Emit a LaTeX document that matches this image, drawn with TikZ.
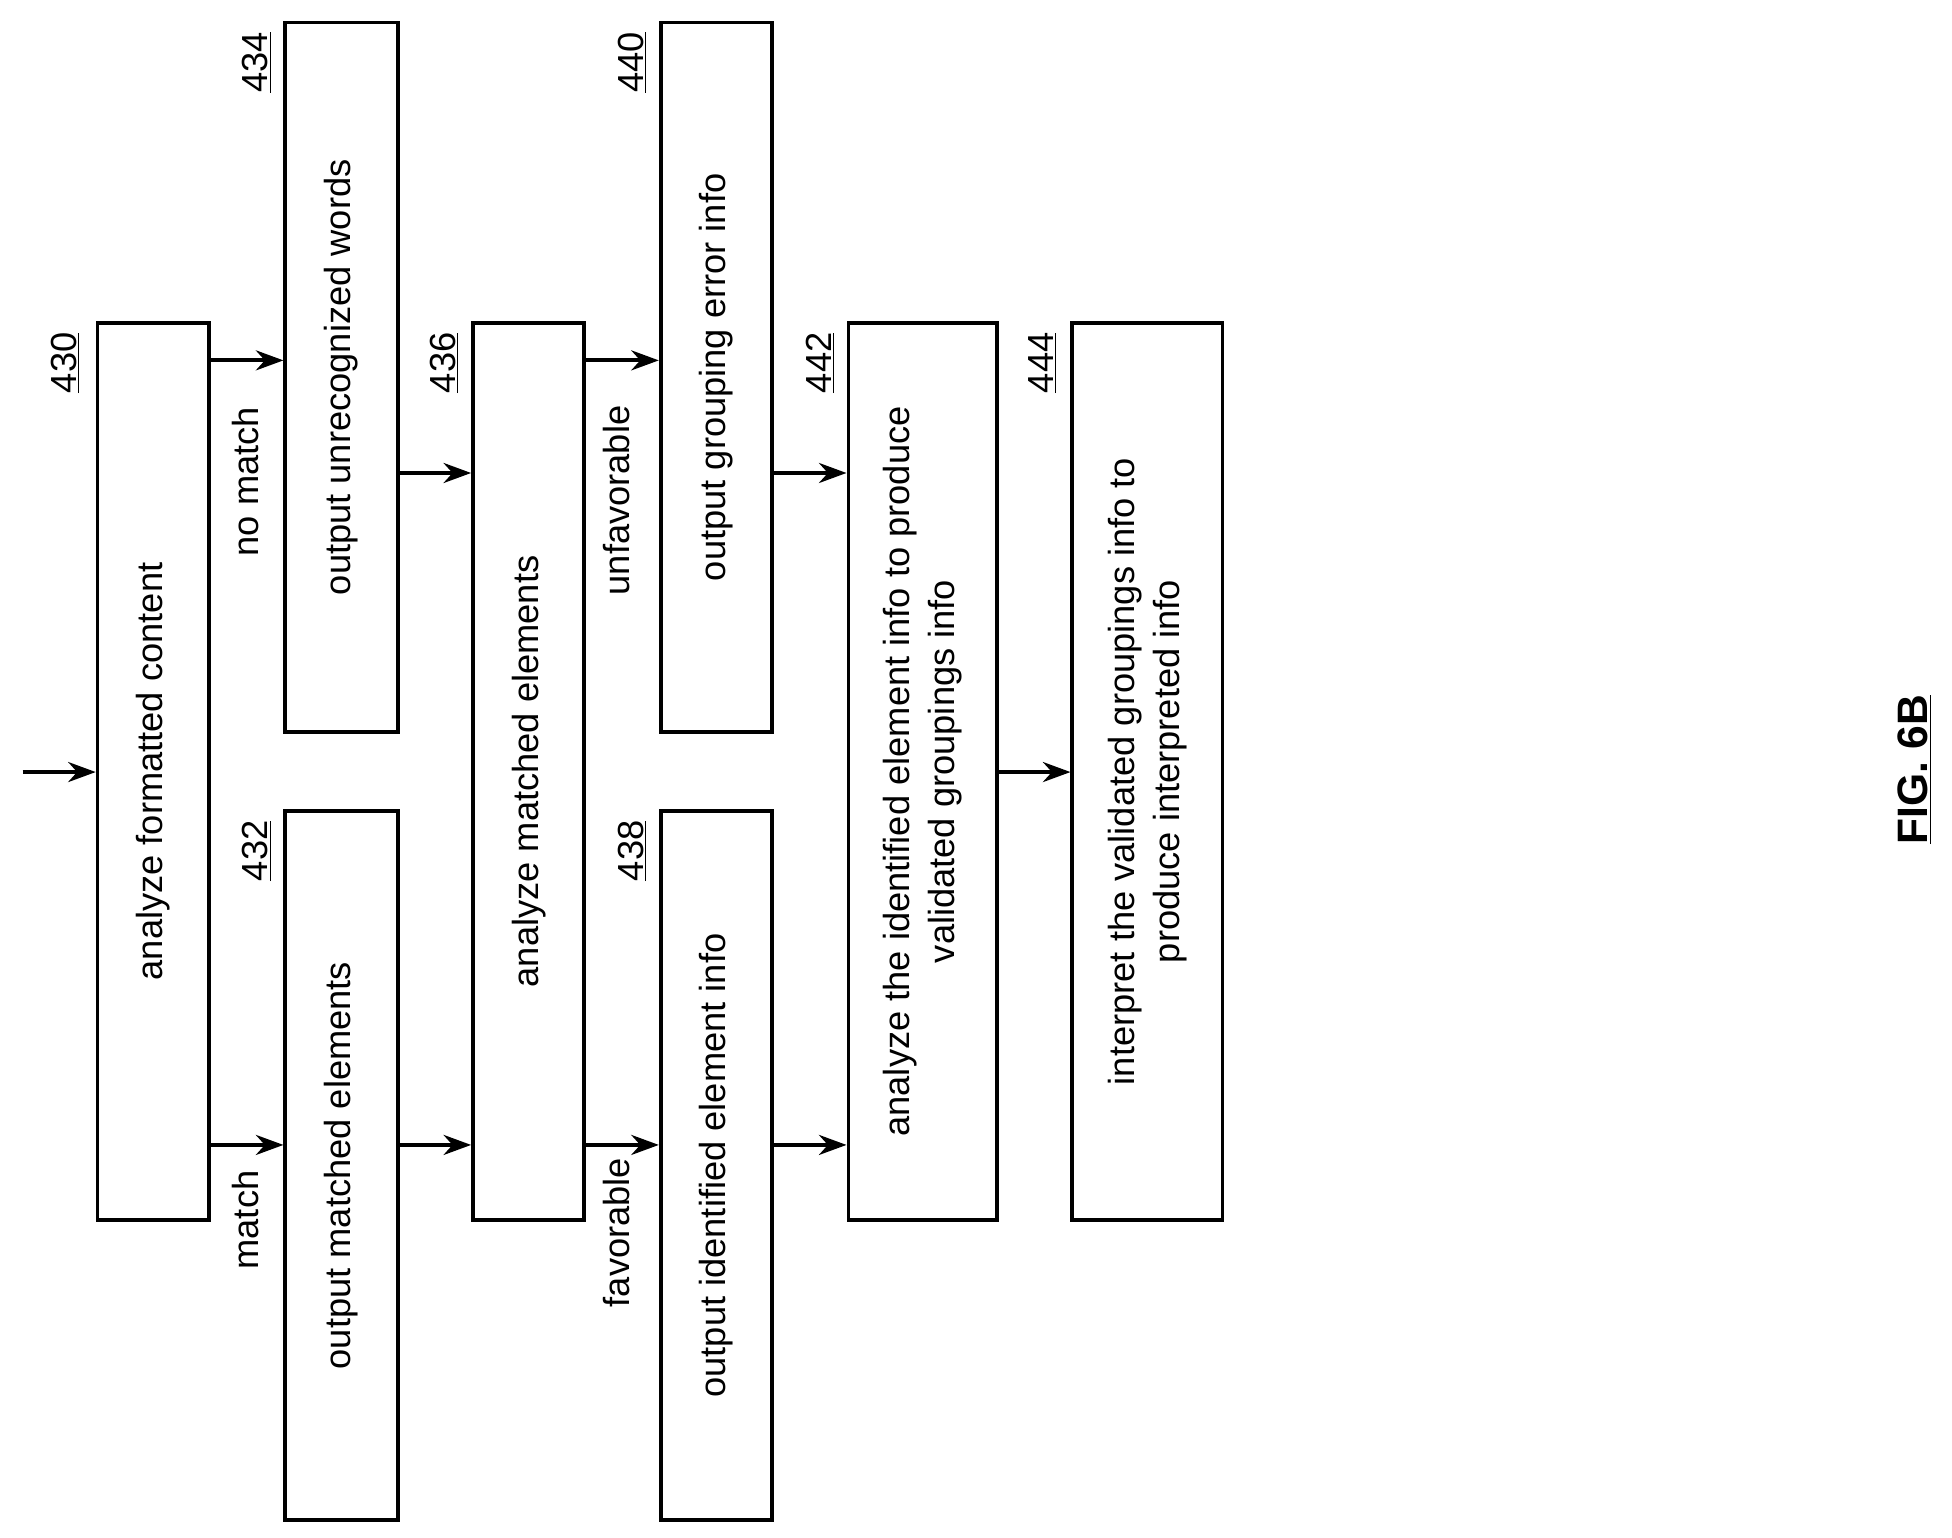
\documentclass[tikz,border=0pt]{standalone}
\usepackage{fontspec}
\setmainfont{Liberation Sans}
\usetikzlibrary{arrows.meta,positioning}
\tikzset{box/.style={draw,line width=3pt,rotate=90,align=center,inner sep=0pt},
  arr/.style={line width=3pt,-{Stealth[length=22pt,width=16pt]}},
  ref/.style={rotate=90,inner sep=0pt},
  lbl/.style={rotate=90,inner sep=0pt}}
\begin{document}
\begin{tikzpicture}[x=1pt,y=-1pt,font=\fontsize{29}{36}\selectfont]
\useasboundingbox (0,0) rectangle (1560,1229);
% boxes
\node[box,minimum width=717,minimum height=89] (b430) at (122.5,616.5) {analyze formatted content};
\node[box,minimum width=567,minimum height=90] (b432) at (273,931.5) {output matched elements};
\node[box,minimum width=567,minimum height=90] (b434) at (273,301.5) {output unrecognized words};
\node[box,minimum width=717,minimum height=89] (b436) at (422.5,616.5) {analyze matched elements};
\node[box,minimum width=567,minimum height=89] (b438) at (572.5,931.5) {output identified element info};
\node[box,minimum width=567,minimum height=89] (b440) at (572.5,301.5) {output grouping error info};
\node[box,minimum width=717,minimum height=119] (b442) at (737.5,616.5) {analyze the identified element info to produce\\validated groupings info};
\node[box,minimum width=717,minimum height=120] (b444) at (917,616.5) {interpret the validated groupings info to\\produce interpreted info};
% reference numbers
\node[ref] (r430) at (52,290) {\underline{430}};
\node[ref] (r432) at (205,680) {\underline{432}};
\node[ref] (r434) at (205,50) {\underline{434}};
\node[ref] (r436) at (355,290) {\underline{436}};
\node[ref] (r438) at (505,680) {\underline{438}};
\node[ref] (r440) at (505,50) {\underline{440}};
\node[ref] (r442) at (655,290) {\underline{442}};
\node[ref] (r444) at (833,290) {\underline{444}};
% branch labels
\node[lbl] (lmatch) at (196,975) {match};
\node[lbl] (lnomatch) at (196,385) {no match};
\node[lbl] (lfav) at (493,985) {favorable};
\node[lbl] (lunfav) at (493,400) {unfavorable};
% connectors
\coordinate (start) at (18,617);
\draw[arr] (start) -- (b430.north |- start);
\draw[arr] (b430.south |- 0,915) -- (b432.north |- 0,915);
\draw[arr] (b430.south |- 0,288) -- (b434.north |- 0,288);
\draw[arr] (b432.south |- 0,915) -- (b436.north |- 0,915);
\draw[arr] (b434.south |- 0,378) -- (b436.north |- 0,378);
\draw[arr] (b436.south |- 0,915) -- (b438.north |- 0,915);
\draw[arr] (b436.south |- 0,288) -- (b440.north |- 0,288);
\draw[arr] (b438.south |- 0,915) -- (b442.north |- 0,915);
\draw[arr] (b440.south |- 0,378) -- (b442.north |- 0,378);
\draw[arr] (b442.south |- 0,617) -- (b444.north |- 0,617);
% figure label
\node[rotate=90,font=\fontsize{34}{40}\selectfont\bfseries] (fig) at (1530,615) {\underline{FIG. 6B}};
\end{tikzpicture}
\end{document}
